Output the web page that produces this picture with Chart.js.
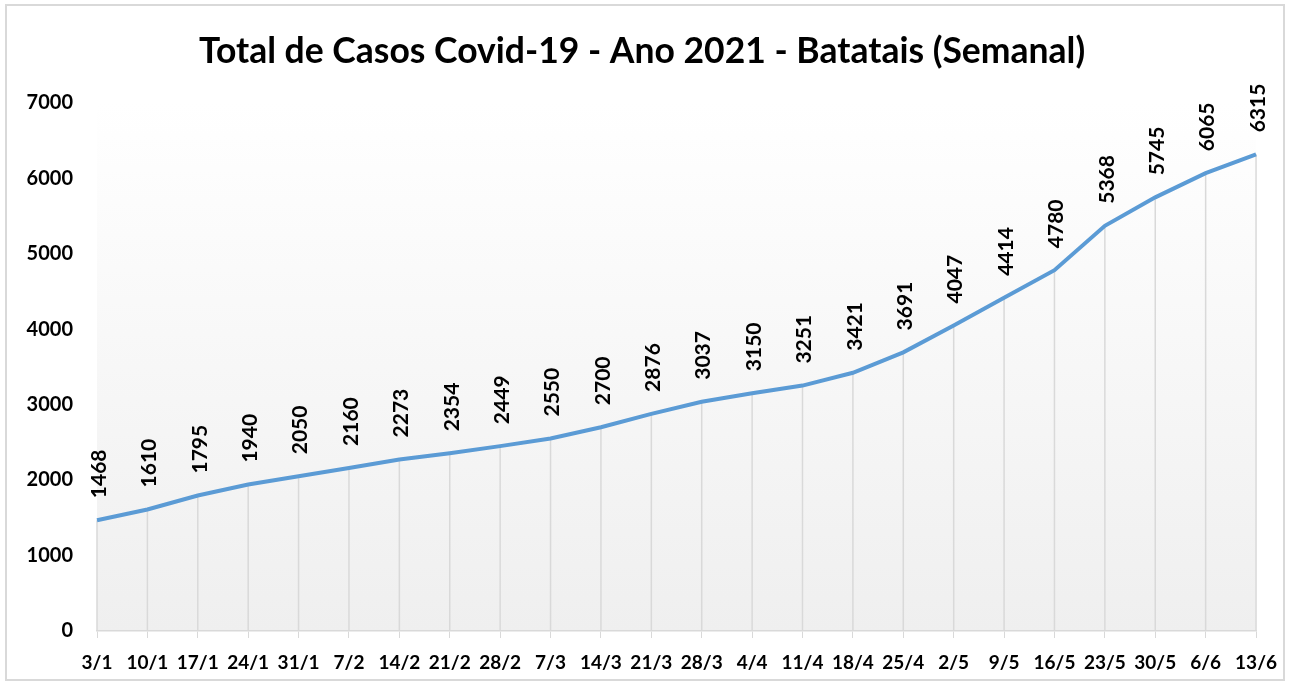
<!DOCTYPE html>
<html>
<head>
<meta charset="utf-8">
<script src="https://cdn.jsdelivr.net/npm/chart.js@4/dist/chart.umd.min.js"></script>
<style>
  html, body { margin: 0; padding: 0; background: #fff; }
  #wrap { width: 1290px; height: 684px; position: relative; }
</style>
</head>
<body>
<div id="wrap"><canvas id="casos-chart"></canvas></div>
<script>
// weekly dates (dd/m) and accumulated cases
const semanas = ['3/1', '10/1', '17/1', '24/1', '31/1', '7/2', '14/2', '21/2', '28/2', '7/3', '14/3', '21/3',
                 '28/3', '4/4', '11/4', '18/4', '25/4', '2/5', '9/5', '16/5', '23/5', '30/5', '6/6', '13/6'];
const totalCasos = [1468, 1610, 1795, 1940, 2050, 2160, 2273, 2354, 2449, 2550, 2700, 2876,
                    3037, 3150, 3251, 3421, 3691, 4047, 4414, 4780, 5368, 5745, 6065, 6315];
const yMin = 0;
const yMax = 7000;
const yStep = 1000;

const fontFamily = 'Lato, "Open Sans", sans-serif';

// outer border + plot gradient
const backgroundPlugin = {
    id: 'fundo',
    beforeDraw: function(chart) {
        const ctx = chart.ctx;
        const area = chart.chartArea;
        ctx.save();
        ctx.fillStyle = '#ffffff';
        ctx.fillRect(0, 0, chart.width, chart.height);
        const grad = ctx.createLinearGradient(0, area.top, 0, area.bottom);
        grad.addColorStop(0, '#ffffff');
        grad.addColorStop(1, '#efefef');
        ctx.fillStyle = grad;
        ctx.fillRect(area.left, area.top, area.right - area.left, area.bottom - area.top);
        ctx.strokeStyle = '#d9d9d9';
        ctx.lineWidth = 2;
        ctx.strokeRect(6, 5, chart.width - 12, chart.height - 9);
        ctx.restore();
    }
};

// vertical drop lines from each point to the x axis
const dropLinesPlugin = {
    id: 'dropLines',
    beforeDatasetsDraw: function(chart) {
        const ctx = chart.ctx;
        const meta = chart.getDatasetMeta(0);
        const bottom = chart.scales.y.getPixelForValue(0);
        ctx.save();
        ctx.strokeStyle = '#d9d9d9';
        ctx.lineWidth = 1.5;
        meta.data.forEach(function(pt) {
            ctx.beginPath();
            ctx.moveTo(pt.x, pt.y);
            ctx.lineTo(pt.x, bottom);
            ctx.stroke();
        });
        ctx.restore();
    }
};

// rotated value labels above each point
const valueLabelsPlugin = {
    id: 'valueLabels',
    afterDatasetsDraw: function(chart) {
        const ctx = chart.ctx;
        const meta = chart.getDatasetMeta(0);
        ctx.save();
        ctx.fillStyle = '#000000';
        ctx.font = 'bold 21px ' + fontFamily;
        ctx.textAlign = 'left';
        ctx.textBaseline = 'middle';
        meta.data.forEach(function(pt, i) {
            ctx.save();
            ctx.translate(pt.x + 2, pt.y - 22);
            ctx.rotate(-Math.PI / 2);
            ctx.fillText(String(totalCasos[i]), 0, 0);
            ctx.restore();
        });
        ctx.restore();
    }
};

const ctx = document.getElementById('casos-chart').getContext('2d');
new Chart(ctx, {
    type: 'line',
    data: {
        labels: semanas,
        datasets: [{
            label: 'Total de Casos',
            data: totalCasos,
            borderColor: '#5b9bd5',
            borderWidth: 4,
            pointRadius: 0,
            tension: 0,
            fill: false
        }]
    },
    options: {
        responsive: true,
        maintainAspectRatio: false,
        animation: false,
        layout: {
            padding: { top: 30, left: 23, right: 29, bottom: 0 }
        },
        plugins: {
            legend: { display: false },
            tooltip: { enabled: false },
            title: {
                display: true,
                text: 'Total de Casos Covid-19 - Ano 2021 - Batatais (Semanal)',
                color: '#000000',
                font: { family: fontFamily, size: 35.5, weight: 'bold' },
                padding: { top: 0, bottom: 30 }
            }
        },
        scales: {
            x: {
                offset: false,
                afterFit: function(scale) { scale.height = 53; },
                grid: {
                    drawOnChartArea: false,
                    drawTicks: true,
                    tickLength: 7,
                    color: '#d9d9d9'
                },
                border: { color: '#d9d9d9', width: 1.5 },
                ticks: {
                    color: '#000000',
                    autoSkip: false,
                    maxRotation: 0,
                    padding: 13,
                    font: { family: fontFamily, size: 19, weight: 'bold' }
                }
            },
            y: {
                min: yMin,
                max: yMax,
                grid: { display: false, drawTicks: false },
                border: { display: false },
                afterFit: function(scale) { scale.width = 74; },
                ticks: {
                    stepSize: yStep,
                    color: '#000000',
                    padding: 24,
                    font: { family: fontFamily, size: 20, weight: 'bold' },
                    callback: function(value) {
                        return String(value);
                    }
                }
            }
        }
    },
    plugins: [backgroundPlugin, dropLinesPlugin, valueLabelsPlugin]
});
</script>
</body>
</html>
